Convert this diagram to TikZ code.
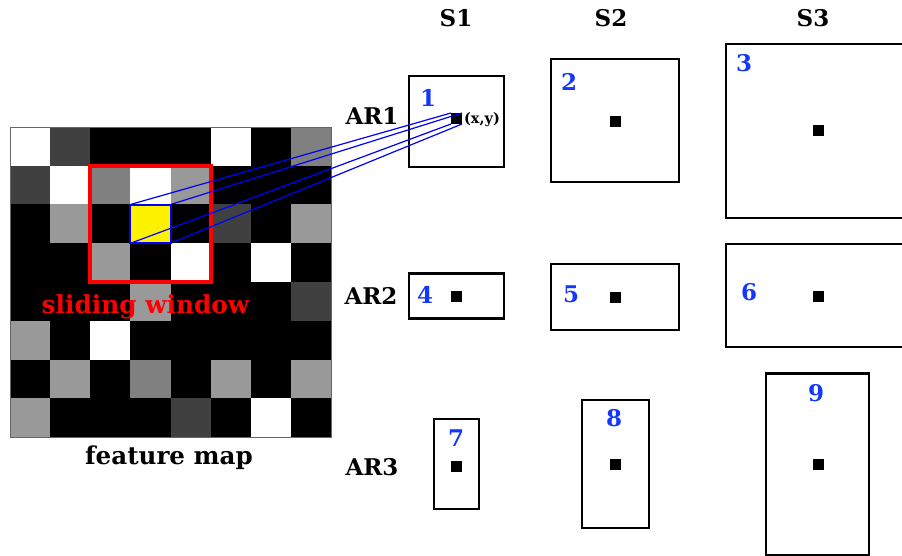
\documentclass[tikz,border=0pt]{standalone}
\usepackage{fontspec}
\setmainfont{DejaVu Serif}
\definecolor{numblue}{RGB}{20,55,255}
\colorlet{cW}{white}
\colorlet{cD}{black!75}
\colorlet{cM}{black!50}
\colorlet{cL}{black!40}
\colorlet{cB}{black}
\colorlet{cY}{yellow}
\tikzset{
  lbl/.style={font=\fontsize{23}{26}\selectfont\bfseries, inner sep=0pt},
  num/.style={font=\fontsize{23}{26}\selectfont\bfseries, text=numblue, inner sep=0pt},
  anchorbox/.style={draw=black, line width=2.2pt, fill=white, inner sep=0pt, outer sep=0pt},
  dot/.style={fill=black, minimum size=11pt, inner sep=0pt, outer sep=0pt},
  ray/.style={blue, line width=1.2pt},
}
\begin{document}
\begin{tikzpicture}[x=1pt, y=-1pt]
\useasboundingbox (0,0) rectangle (902,556);
\clip (0,0) rectangle (902,556);
\fill[white] (0,0) rectangle (902,556);

% feature map: 8x8 cells
\def\cw{40.15}
\def\ch{38.75}
\foreach \row [count=\r from 0] in {
  {W,D,B,B,B,W,B,M},
  {D,W,M,W,L,B,B,B},
  {B,L,B,Y,B,D,B,L},
  {B,B,L,B,W,B,W,B},
  {B,B,B,L,B,B,B,D},
  {L,B,W,B,B,B,B,B},
  {B,L,B,M,B,L,B,L},
  {L,B,B,B,D,B,W,B}} {
  \foreach \v [count=\c from 0] in \row {
    \fill[c\v] (10+\cw*\c, 127+\ch*\r) rectangle ++(\cw, \ch);
  }
}
\draw[black!60, line width=0.6pt] (10,127) rectangle (331.2,437);

% sliding window and the current cell
\node[draw=red, line width=4pt, minimum width=120.45pt, minimum height=116.25pt,
      inner sep=0pt, outer sep=0pt] (window) at (150.5, 223.9) {};
\node[draw=blue, fill=yellow, line width=2pt, minimum width=40.15pt, minimum height=38.75pt,
      inner sep=0pt, outer sep=0pt] (cell) at (150.5, 223.9) {};

\node[font=\fontsize{24.8}{28}\selectfont\bfseries, text=red, inner sep=0pt] (sw) at (145.5,307) {sliding window};
\node[font=\fontsize{24.6}{28}\selectfont\bfseries, inner sep=0pt] (fm) at (169,458) {feature map};

% column and row headings
\node[lbl] (s1) at (456,18) {S1};
\node[lbl] (s2) at (611,18) {S2};
\node[lbl] (s3) at (813,18) {S3};
\node[lbl] (ar1) at (372,116) {AR1};
\node[lbl] (ar2) at (371,296) {AR2};
\node[lbl] (ar3) at (372,467) {AR3};

% anchor boxes: three scales x three aspect ratios
\node[anchorbox, minimum width=95pt,  minimum height=91pt]  (b1) at (456.5,121.5) {};
\node[anchorbox, minimum width=128pt, minimum height=123pt] (b2) at (615,120.5) {};
\node[anchorbox, minimum width=182pt, minimum height=174pt] (b3) at (817,131) {};
\node[anchorbox, minimum width=95pt,  minimum height=45pt]  (b4) at (456.5,296) {};
\node[anchorbox, minimum width=128pt, minimum height=66pt]  (b5) at (615,297) {};
\node[anchorbox, minimum width=182pt, minimum height=103pt] (b6) at (817,295.5) {};
\node[anchorbox, minimum width=45pt,  minimum height=90pt]  (b7) at (456.5,464) {};
\node[anchorbox, minimum width=67pt,  minimum height=128pt] (b8) at (615.5,464) {};
\node[anchorbox, minimum width=103pt, minimum height=182pt] (b9) at (817.5,464.5) {};

% anchor centres
\node[dot] (d1) at (456.5,118.5) {};
\node[dot] (d2) at (615,122) {};
\node[dot] (d3) at (818,131) {};
\node[dot] (d4) at (456.5,296) {};
\node[dot] (d5) at (615,297.5) {};
\node[dot] (d6) at (818,296) {};
\node[dot] (d7) at (456.5,466.5) {};
\node[dot] (d8) at (615.5,464) {};
\node[dot] (d9) at (818,464) {};

% box numbers
\node[num] (n1) at (428,98) {1};
\node[num] (n2) at (569,82) {2};
\node[num] (n3) at (744,63) {3};
\node[num] (n4) at (425,294.5) {4};
\node[num] (n5) at (571,294.5) {5};
\node[num] (n6) at (749,292) {6};
\node[num] (n7) at (456,438) {7};
\node[num] (n8) at (614,418) {8};
\node[num] (n9) at (816,393) {9};

\node[font=\fontsize{14.5}{16}\selectfont\bfseries, inner sep=0pt] (xy) at (482,119.5) {(x,y)};

% projection of the cell onto the anchor centre
\draw[ray] (cell.north west) -- (d1.north west);
\draw[ray] (cell.north east) -- (d1.north east);
\draw[ray] (cell.south west) -- (d1.south west);
\draw[ray] (cell.south east) -- (d1.south east);
\end{tikzpicture}
\end{document}
